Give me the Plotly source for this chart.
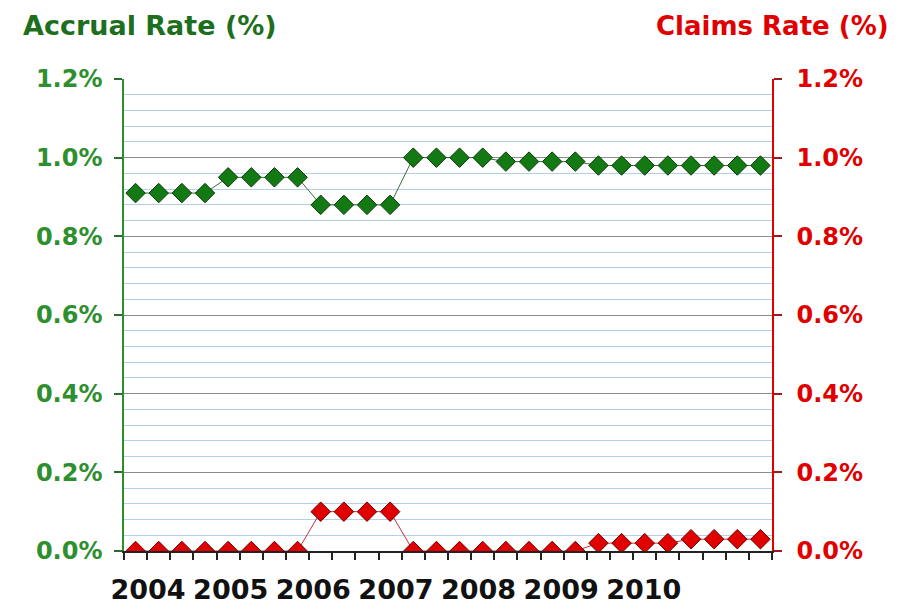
import plotly.graph_objects as go

# Data: quarterly, 2004 Q1 .. 2010 Q4
years = ["2004", "2005", "2006", "2007", "2008", "2009", "2010"]
accrual_rate = [0.91, 0.91, 0.91, 0.91,
                0.95, 0.95, 0.95, 0.95,
                0.88, 0.88, 0.88, 0.88,
                1.00, 1.00, 1.00, 1.00,
                0.99, 0.99, 0.99, 0.99,
                0.98, 0.98, 0.98, 0.98,
                0.98, 0.98, 0.98, 0.98]
claims_rate = [0.00, 0.00, 0.00, 0.00,
               0.00, 0.00, 0.00, 0.00,
               0.10, 0.10, 0.10, 0.10,
               0.00, 0.00, 0.00, 0.00,
               0.00, 0.00, 0.00, 0.00,
               0.02, 0.02, 0.02, 0.02,
               0.03, 0.03, 0.03, 0.03]
y_ticks = [0.0, 0.2, 0.4, 0.6, 0.8, 1.0, 1.2]
y_ticktext = [f"{v:.1f}%" for v in y_ticks]

n = len(accrual_rate)
xs = list(range(n))
year_pos = [0.54 + 3.57 * k for k in range(len(years))]

GREEN_T = "#1d6e1d"
GREEN_L = "#2e8f2e"
RED = "#e00000"
FONT = "DejaVu Sans"

# page body has an 8px margin; compensate so the plot lands where intended
W, H = 906, 602
ML, MR, MT, MB = 116, 142, 71, 59
PW = W - ML - MR
PH = H - MT - MB

fig = go.Figure()
fig.add_trace(go.Scatter(
    x=xs, y=accrual_rate, mode="lines+markers", yaxis="y", xaxis="x",
    line=dict(color="#3f6b3f", width=1),
    marker=dict(symbol="diamond", size=15, color="#137a13",
                line=dict(color="#0a3a0a", width=1)),
    name="Accrual Rate", showlegend=False))
fig.add_trace(go.Scatter(
    x=xs, y=claims_rate, mode="lines+markers", yaxis="y2", xaxis="x",
    line=dict(color="#c03040", width=1),
    marker=dict(symbol="diamond", size=15, color="#e00000",
                line=dict(color="#700000", width=1)),
    name="Claims Rate", showlegend=False))

yrange = [0, 1.2]
xrange = [-0.5, n - 0.5]

fig.update_layout(
    width=W, height=H,
    margin=dict(l=ML, r=MR, t=MT, b=MB, autoexpand=False),
    paper_bgcolor="white", plot_bgcolor="white",
    font=dict(family=FONT),
    xaxis=dict(
        range=xrange, showgrid=False, zeroline=False, automargin=False,
        showline=True, linecolor="#222222", linewidth=1.5,
        tickmode="array", tickvals=year_pos, ticktext=years,
        ticks="", tickfont=dict(size=27, color="#111111", family=FONT, weight="bold"),
        ticklabelstandoff=14,
        minor=dict(tickmode="linear", tick0=-0.5, dtick=1, ticks="outside",
                   ticklen=7, tickcolor="#222222", tickwidth=1.5, showgrid=False),
    ),
    xaxis2=dict(
        range=xrange, overlaying="x", anchor="y", showgrid=False, zeroline=False,
        showticklabels=False, showline=False, automargin=False,
        tickmode="linear", tick0=-0.5, dtick=1, ticks="inside",
        ticklen=7, tickcolor="#222222", tickwidth=1.5,
    ),
    yaxis=dict(
        range=yrange, tickmode="array", tickvals=y_ticks, ticktext=y_ticktext,
        tickfont=dict(size=24, color=GREEN_L, family=FONT, weight="bold"),
        showline=True, linecolor="#2e8b2e", linewidth=1.5, automargin=False,
        ticks="outside", ticklen=8, tickcolor="#2e6b2e", tickwidth=1.5,
        showgrid=True, gridcolor="#8c8c8c", gridwidth=1.2,
        zeroline=False, ticklabelstandoff=7,
        minor=dict(dtick=0.04, tick0=0, showgrid=True, gridcolor="#b4cfe9", gridwidth=1),
    ),
    yaxis3=dict(
        range=yrange, overlaying="y", anchor="x", side="left", automargin=False,
        tickmode="array", tickvals=y_ticks, showticklabels=False,
        ticks="inside", ticklen=8, tickcolor="#2e6b2e", tickwidth=1.5,
        showgrid=False, zeroline=False, showline=False,
    ),
    yaxis2=dict(
        range=yrange, overlaying="y", side="right", anchor="x", automargin=False,
        tickmode="array", tickvals=y_ticks, ticktext=y_ticktext,
        tickfont=dict(size=24, color=RED, family=FONT, weight="bold"),
        showline=True, linecolor=RED, linewidth=1.5,
        ticks="outside", ticklen=8, tickcolor="#9a1a1a", tickwidth=1.5,
        showgrid=False, zeroline=False, ticklabelstandoff=10,
    ),
    yaxis4=dict(
        range=yrange, overlaying="y", side="right", anchor="x", automargin=False,
        tickmode="array", tickvals=y_ticks, showticklabels=False,
        ticks="inside", ticklen=8, tickcolor="#9a1a1a", tickwidth=1.5,
        showgrid=False, zeroline=False, showline=False,
    ),
    annotations=[
        dict(text="<b>Accrual Rate (%)</b>", xref="paper", yref="paper",
             x=-103 / PW, y=1 + 53 / PH, xanchor="left", yanchor="middle",
             showarrow=False, font=dict(size=27, color=GREEN_T, family=FONT)),
        dict(text="<b>Claims Rate (%)</b>", xref="paper", yref="paper",
             x=1 + 119 / PW, y=1 + 53 / PH, xanchor="right", yanchor="middle",
             showarrow=False, font=dict(size=26, color=RED, family=FONT)),
    ],
)

fig.write_html("out.html")
